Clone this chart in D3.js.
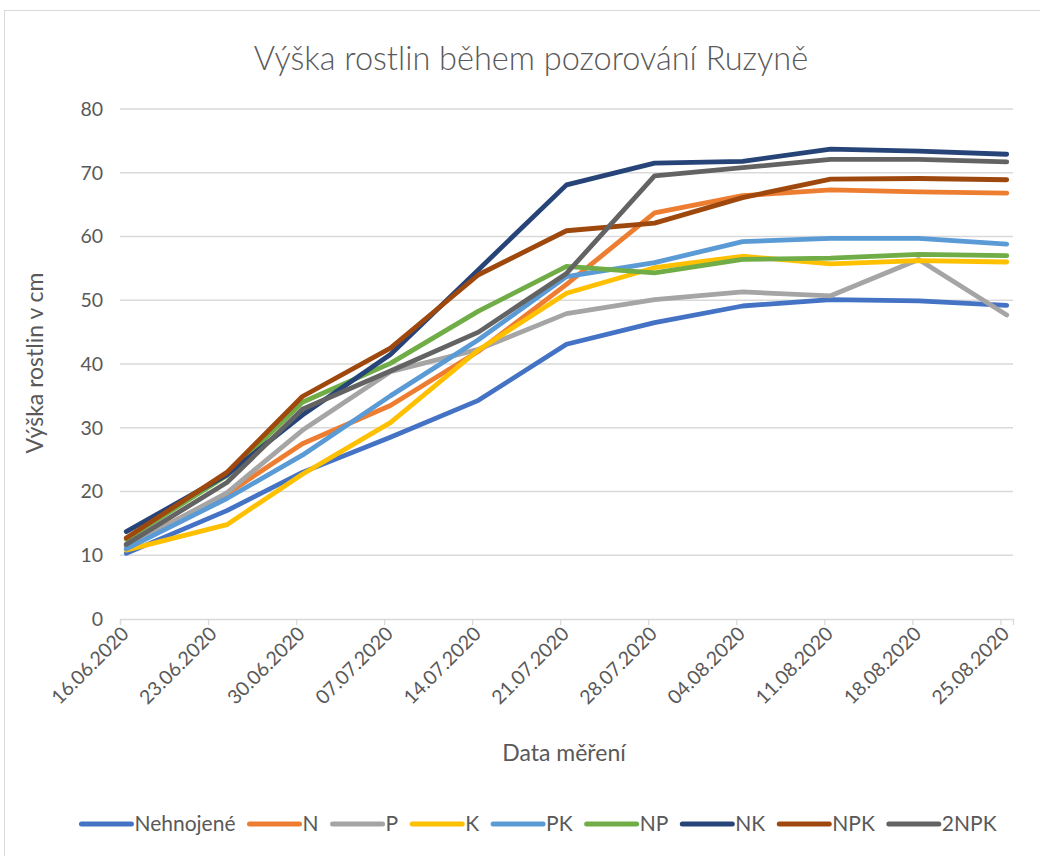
<!DOCTYPE html>
<html><head><meta charset="utf-8">
<script src="https://cdn.jsdelivr.net/npm/d3@7"></script>
<style>body{margin:0;background:#fff} svg{display:block}</style>
</head><body>
<svg id="c" width="1040" height="856"></svg>
<script>
// ---- data ----
const measureDates = ["16.06.2020","24.06.2020","30.06.2020","07.07.2020","14.07.2020","21.07.2020","28.07.2020","04.08.2020","11.08.2020","18.08.2020","25.08.2020"];
const tickLabels = ["16.06.2020","23.06.2020","30.06.2020","07.07.2020","14.07.2020","21.07.2020","28.07.2020","04.08.2020","11.08.2020","18.08.2020","25.08.2020"];
const yTicks = [0,10,20,30,40,50,60,70,80];
const seriesNames = ["Nehnojené","N","P","K","PK","NP","NK","NPK","2NPK"];
const seriesColors = ["#4472C4","#ED7D31","#A5A5A5","#FFC000","#5B9BD5","#70AD47","#264478","#9E480E","#636363"];
const nehnojene = [10.3, 17.0, 23.0, 28.5, 34.3, 43.1, 46.5, 49.1, 50.1, 49.9, 49.2];
const n =        [11.5, 19.6, 27.5, 33.5, 42.0, 52.5, 63.7, 66.4, 67.3, 67.0, 66.8];
const p =        [11.3, 19.8, 29.6, 38.8, 42.3, 47.9, 50.1, 51.3, 50.7, 56.4, 47.7];
const k =        [10.8, 14.8, 22.7, 30.8, 42.2, 51.1, 55.1, 56.9, 55.7, 56.2, 56.0];
const pk =       [11.0, 18.9, 25.7, 35.0, 43.8, 53.7, 55.9, 59.2, 59.7, 59.7, 58.8];
const np =       [12.5, 22.5, 34.0, 40.1, 48.3, 55.3, 54.3, 56.4, 56.6, 57.2, 57.0];
const nk =       [13.7, 22.6, 32.0, 41.5, 54.8, 68.1, 71.5, 71.8, 73.7, 73.4, 72.9];
const npk =      [12.7, 23.0, 34.9, 42.5, 54.0, 60.9, 62.1, 66.1, 69.0, 69.1, 68.9];
const npk2 =     [11.7, 21.4, 32.9, 38.9, 45.0, 54.2, 69.5, 70.8, 72.1, 72.1, 71.7];
const seriesValues = [nehnojene, n, p, k, pk, np, nk, npk, npk2];
const titleText = "Výška rostlin během pozorování Ruzyně";
const yTitle = "Výška rostlin v cm";
const xTitle = "Data měření";

// ---- drawing ----
const parse = d3.timeParse("%d.%m.%Y");
const FONT = "Lato, 'Open Sans', sans-serif";
const TXT = "#595959";
const svg = d3.select("#c");

svg.append("rect").attr("x",4.5).attr("y",10.5).attr("width",1040).attr("height",860)
  .attr("fill","#fff").attr("stroke","#d9d9d9").attr("stroke-width",1);

const x0 = parse(tickLabels[0]);
const xEnd = d3.timeDay.offset(parse(tickLabels[tickLabels.length-1]), 1);
const x = d3.scaleTime().domain([x0, xEnd]).range([120, 1013]);
const y = d3.scaleLinear().domain([0, 80]).range([619, 109]);

// gridlines
svg.append("g").selectAll("line").data(yTicks.filter(v => v > 0)).join("line")
  .attr("x1", 120).attr("x2", 1013)
  .attr("y1", d => y(d)).attr("y2", d => y(d))
  .attr("stroke", "#d9d9d9").attr("stroke-width", 1.3);

// y axis labels
svg.append("g").selectAll("text").data(yTicks).join("text")
  .attr("x", 103).attr("y", d => y(d)).attr("dy", "0.35em")
  .attr("text-anchor", "end").attr("font-family", FONT).attr("font-size", 19.5)
  .attr("fill", TXT).text(d => d);

// x axis
const xAxis = d3.axisBottom(x)
  .tickValues(tickLabels.map(parse))
  .tickSize(6).tickFormat("");
const gx = svg.append("g").attr("transform", `translate(0,${y(0)})`).call(xAxis);
gx.select(".domain").attr("stroke", "#d9d9d9").attr("stroke-width", 1.3);
gx.selectAll(".tick line").attr("stroke", "#d9d9d9").attr("stroke-width", 1.3);

svg.append("g").selectAll("text").data(tickLabels).join("text")
  .attr("transform", d => `translate(${x(parse(d)) + 10},${y(0) + 16}) rotate(-45)`)
  .attr("text-anchor", "end").attr("font-family", FONT).attr("font-size", 19.5)
  .attr("fill", TXT).text(d => d);

// lines
const line = d3.line()
  .x((d, i) => x(d3.timeHour.offset(parse(measureDates[i]), 12)))
  .y(d => y(d));
svg.append("g").selectAll("path").data(seriesValues).join("path")
  .attr("d", d => line(d))
  .attr("fill", "none")
  .attr("stroke", (d, i) => seriesColors[i])
  .attr("stroke-width", 4.8)
  .attr("stroke-linejoin", "round")
  .attr("stroke-linecap", "round");

// titles
svg.append("text").attr("x", 531).attr("y", 70).attr("text-anchor", "middle")
  .attr("font-family", FONT).attr("font-weight", 300).attr("font-size", 32.5).attr("fill", TXT).text(titleText);
svg.append("text").attr("transform", "translate(43,363) rotate(-90)").attr("text-anchor", "middle")
  .attr("font-family", FONT).attr("font-size", 23).attr("fill", TXT).text(yTitle);
svg.append("text").attr("x", 564).attr("y", 761).attr("text-anchor", "middle")
  .attr("font-family", FONT).attr("font-size", 23).attr("fill", TXT).text(xTitle);

// legend
const lg = svg.append("g");
const items = lg.selectAll("g").data(seriesNames).join("g");
items.append("line").attr("x1", 0).attr("x2", 50).attr("y1", 0).attr("y2", 0)
  .attr("stroke", (d, i) => seriesColors[i]).attr("stroke-width", 5).attr("stroke-linecap", "round");
items.append("text").attr("x", 53).attr("dy", "0.35em").attr("font-family", FONT)
  .attr("font-size", 21).attr("fill", TXT).text(d => d);
let cx = 0;
const pos = [];
items.each(function() {
  const w = this.querySelector("text").getComputedTextLength();
  pos.push(cx);
  cx += 53 + w + 14;
});
const total = cx - 14;
const startX = 539 - total / 2;
items.attr("transform", (d, i) => `translate(${startX + pos[i]},824)`);
</script>
</body></html>
